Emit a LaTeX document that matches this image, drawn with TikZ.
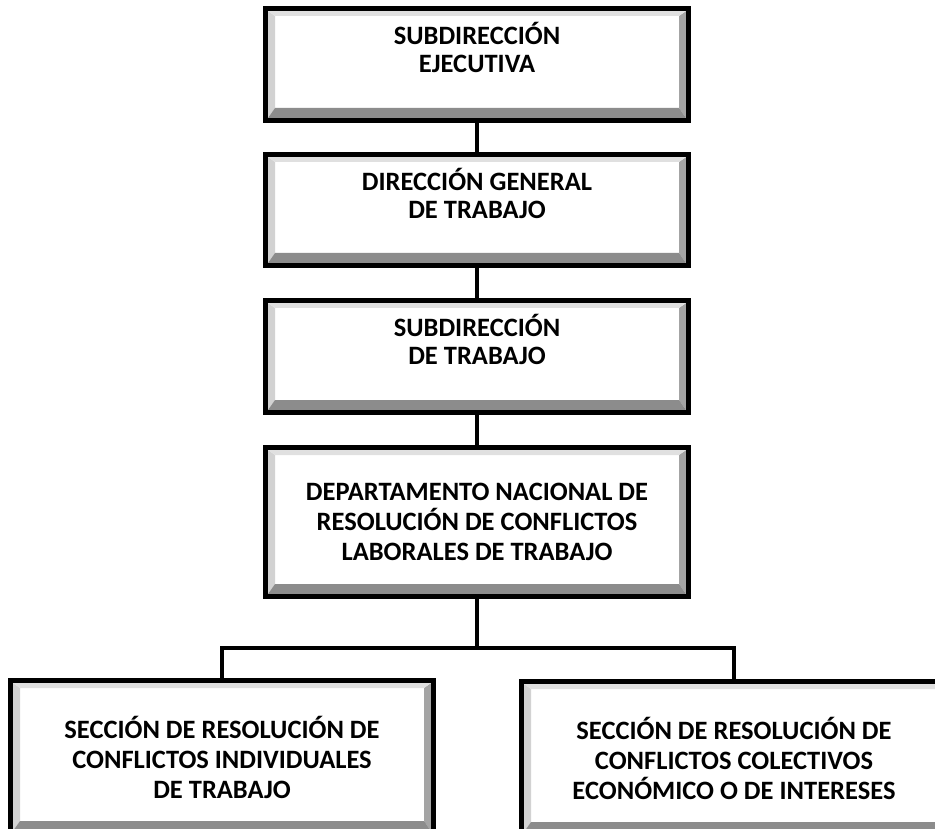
\documentclass[tikz,border=0pt]{standalone}
\usepackage{fontspec}
\setmainfont{Carlito}
\usetikzlibrary{calc}
\newcommand{\boxfont}{\fontsize{26.5}{30}\selectfont\bfseries}
\newcommand{\topfont}{\fontsize{26.5}{28}\selectfont\bfseries}
\definecolor{toplight}{HTML}{E0E0E0}
\definecolor{leftlight}{HTML}{D2D2D2}
\definecolor{rightdark}{HTML}{A4A4A4}
\definecolor{botdark}{HTML}{8C8C8C}
\tikzset{
  bevbox/.style={rectangle, draw=black, line width=5pt, fill=white, inner sep=0pt,
    align=center, font=\boxfont, line join=miter,
    path picture={
      \path ([shift={(2.5pt,-2.5pt)}]path picture bounding box.north west) coordinate (pA)
            ([shift={(-2.5pt,-2.5pt)}]path picture bounding box.north east) coordinate (pB)
            ([shift={(-2.5pt,2.5pt)}]path picture bounding box.south east) coordinate (pC)
            ([shift={(2.5pt,2.5pt)}]path picture bounding box.south west) coordinate (pD);
      \path ([shift={(7pt,-5pt)}]pA) coordinate (qA)
            ([shift={(-7pt,-5pt)}]pB) coordinate (qB)
            ([shift={(-7pt,10pt)}]pC) coordinate (qC)
            ([shift={(7pt,10pt)}]pD) coordinate (qD);
      \fill[leftlight] (pA) -- (qA) -- (qD) -- (pD) -- cycle;
      \fill[rightdark] (pB) -- (pC) -- (qC) -- (qB) -- cycle;
      \fill[toplight] (pA) -- (pB) -- (qB) -- (qA) -- cycle;
      \fill[botdark] (pD) -- (pC) -- (qC) -- (qD) -- cycle;
    }},
  topbox/.style={bevbox, font=\topfont},
  conn/.style={draw=black, line width=4pt, line join=miter}
}
\begin{document}
\begin{tikzpicture}[x=1pt, y=-1pt]
\useasboundingbox (0,0) rectangle (935,829);
\clip (0,0) rectangle (935,829);
\node[topbox, minimum width=423pt, minimum height=112pt] (d1) at (477,64.5) {SUBDIRECCIÓN\\EJECUTIVA\\[6pt]\mbox{}};
\node[topbox, minimum width=423pt, minimum height=111pt] (d2) at (477,210) {DIRECCIÓN GENERAL\\DE TRABAJO\\[6pt]\mbox{}};
\node[topbox, minimum width=423pt, minimum height=112pt] (d3) at (477,356.5) {SUBDIRECCIÓN\\DE TRABAJO\\[6pt]\mbox{}};
\node[bevbox, minimum width=423pt, minimum height=149pt] (d4) at (477,522) {DEPARTAMENTO NACIONAL DE\\RESOLUCIÓN DE CONFLICTOS\\LABORALES DE TRABAJO};
\node[bevbox, minimum width=423pt, minimum height=153pt] (s1) at (222,757) {SECCIÓN DE RESOLUCIÓN DE\\CONFLICTOS INDIVIDUALES\\DE TRABAJO};
\node[bevbox, minimum width=425pt, minimum height=153pt] (s2) at (734,758) {SECCIÓN DE RESOLUCIÓN DE\\CONFLICTOS COLECTIVOS\\ECONÓMICO O DE INTERESES};
\coordinate (bar) at (477,648);
\draw[conn] (d1.south) -- (d2.north);
\draw[conn] (d2.south) -- (d3.north);
\draw[conn] (d3.south) -- (d4.north);
\draw[conn] (d4.south) -- (bar);
\draw[conn] (s1.north) |- (bar) -| (s2.north);
\end{tikzpicture}
\end{document}
